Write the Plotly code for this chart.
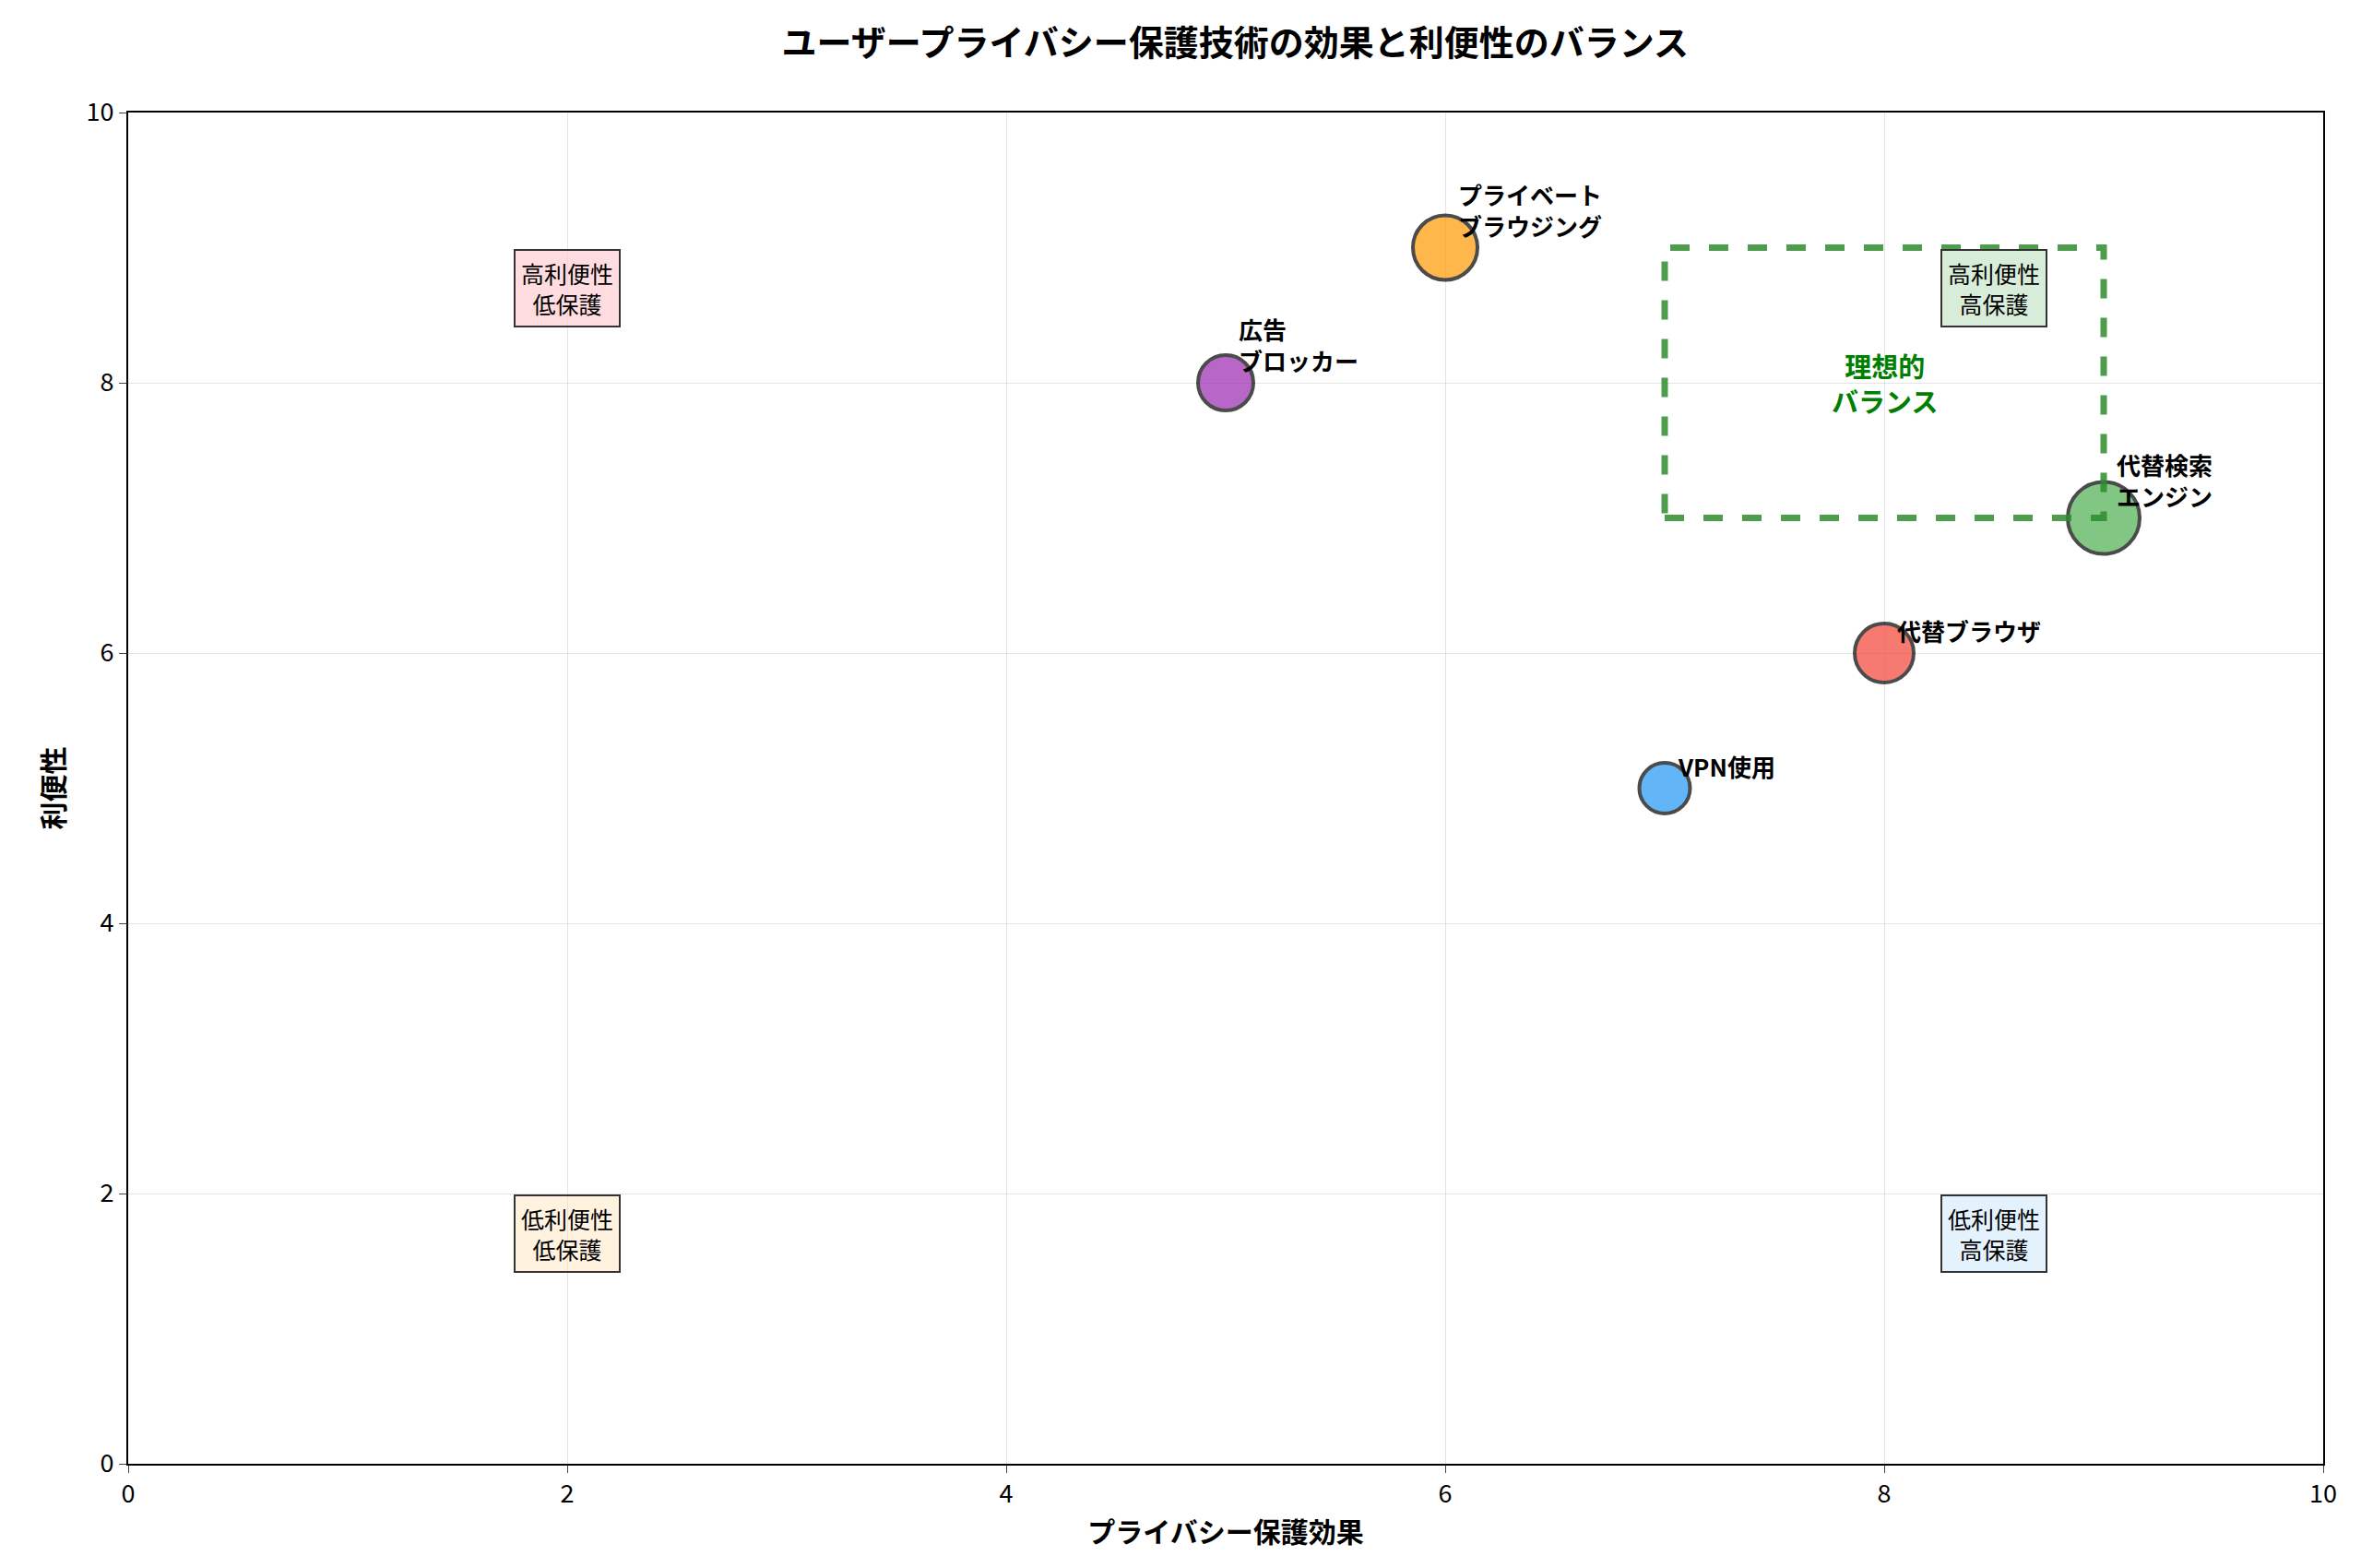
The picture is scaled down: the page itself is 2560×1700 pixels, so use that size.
import plotly.graph_objects as go

# technologies
names = ["VPN使用", "広告<br>ブロッカー", "プライベート<br>ブラウジング", "代替ブラウザ", "代替検索<br>エンジン"]
privacy = [7, 5, 6, 8, 9]
convenience = [5, 8, 9, 6, 7]
sizes = [55, 60, 70, 64, 78]
colors = ["#2196F3", "#9C27B0", "#FF9800", "#F44336", "#4CAF50"]

quad_text = ["高利便性<br>低保護", "高利便性<br>高保護", "低利便性<br>低保護", "低利便性<br>高保護"]
quad_x = [2, 8.5, 2, 8.5]
quad_y = [8.7, 8.7, 1.7, 1.7]
quad_bg = ["rgba(255,205,210,0.7)", "rgba(200,230,201,0.7)", "rgba(255,224,178,0.4)", "rgba(187,222,251,0.4)"]

FONT = "Noto Sans CJK JP"

fig = go.Figure()
fig.add_trace(go.Scatter(
    x=privacy, y=convenience, mode="markers",
    marker=dict(size=sizes, color=colors, opacity=0.7,
                line=dict(color="black", width=4)),
    showlegend=False, hoverinfo="skip"))

for n, x, y in zip(names, privacy, convenience):
    fig.add_annotation(x=x, y=y, text="<b>" + n + "</b>", showarrow=False,
                       xanchor="left", yanchor="bottom", xshift=12, yshift=4,
                       align="left", font=dict(size=26, color="black", family=FONT))

for t, x, y, bg in zip(quad_text, quad_x, quad_y, quad_bg):
    fig.add_annotation(x=x, y=y, text=t, showarrow=False, bgcolor=bg,
                       bordercolor="#333", borderwidth=2, borderpad=6,
                       font=dict(size=25, color="black", family=FONT))

fig.add_shape(type="rect", x0=7, x1=9, y0=7, y1=9,
              line=dict(color="rgba(46,140,46,0.85)", width=7, dash="dash"))
fig.add_annotation(x=8, y=8, text="<b>理想的<br>バランス</b>", showarrow=False,
                   font=dict(size=29, color="green", family=FONT))

axis = dict(range=[0, 10], dtick=2, showgrid=True, gridcolor="rgba(0,0,0,0.1)",
            showline=True, linecolor="black", linewidth=2, mirror=True,
            ticks="outside", ticklen=8, zeroline=False,
            tickfont=dict(size=27, color="black"))
fig.update_xaxes(**axis, title=dict(text="<b>プライバシー保護効果</b>", font=dict(size=30, family=FONT)))
fig.update_yaxes(**axis, title=dict(text="<b>利便性</b>", font=dict(size=30, family=FONT)))

fig.update_layout(
    width=2560, height=1700, plot_bgcolor="white", paper_bgcolor="white",
    margin=dict(l=131, r=49, t=114, b=121),
    font=dict(family=FONT, color="black"),
    title=dict(text="<b>ユーザープライバシー保護技術の効果と利便性のバランス</b>",
               x=0.52, xanchor="center", y=0.985, font=dict(size=38)),
)

fig.write_html("out.html")
